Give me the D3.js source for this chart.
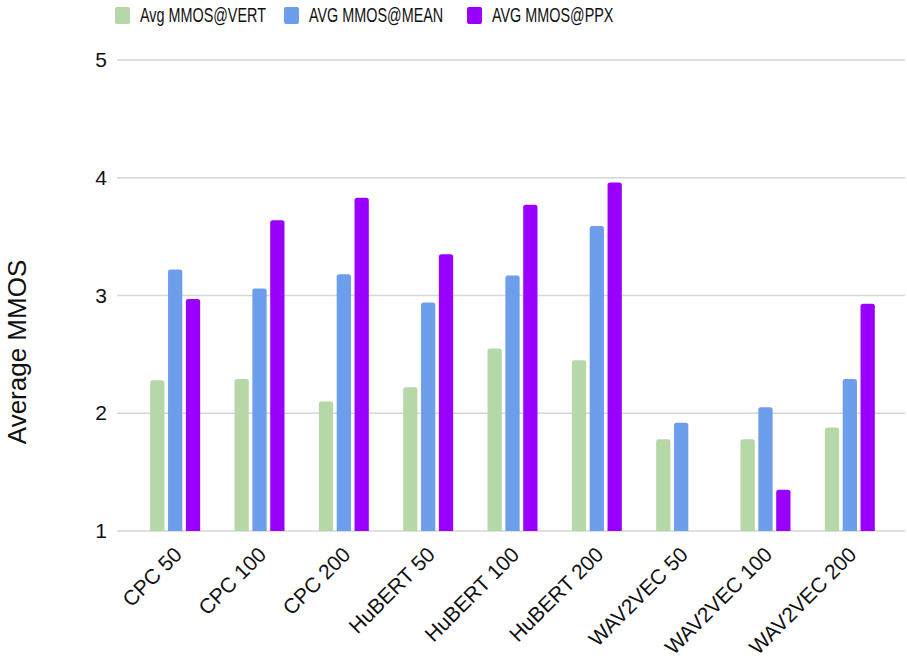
<!DOCTYPE html>
<html>
<head>
<meta charset="utf-8">
<script src="https://cdn.jsdelivr.net/npm/d3@7/dist/d3.min.js"></script>
<style>
  html, body { margin: 0; padding: 0; background: #fff; }
  svg { display: block; font-family: "Liberation Sans", Arial, sans-serif; }
</style>
</head>
<body>
<svg id="chart" width="907" height="665"></svg>
<script>
// ---- data ----
const categories = ["CPC 50", "CPC 100", "CPC 200", "HuBERT 50", "HuBERT 100", "HuBERT 200", "WAV2VEC 50", "WAV2VEC 100", "WAV2VEC 200"];
const seriesNames = ["Avg MMOS@VERT", "AVG MMOS@MEAN", "AVG MMOS@PPX"];
const vertValues = [2.28, 2.29, 2.10, 2.22, 2.55, 2.45, 1.78, 1.78, 1.88];
const meanValues = [3.22, 3.06, 3.18, 2.94, 3.17, 3.59, 1.92, 2.05, 2.29];
const ppxValues  = [2.97, 3.64, 3.83, 3.35, 3.77, 3.96, null, 1.35, 2.93];
const yTicks = [1, 2, 3, 4, 5];
const yTitle = "Average MMOS";
const colors = ["#b6d7a8", "#6d9eeb", "#9900ff"];

const seriesValues = [vertValues, meanValues, ppxValues];

// ---- layout ----
const svg = d3.select("#chart");
const plotLeft = 117, plotRight = 905;
const y = d3.scaleLinear().domain([1, 5]).range([531, 60]);
const x = d3.scaleBand().domain(categories).range([133, 892]).paddingInner(0.4074).paddingOuter(0.2037);
const xInner = d3.scaleBand().domain(seriesNames).range([0, x.bandwidth()]).paddingInner(0.2);

// gridlines
const grid = svg.append("g");
grid.selectAll("line").data(yTicks).join("line")
  .attr("x1", plotLeft).attr("x2", plotRight)
  .attr("y1", d => y(d)).attr("y2", d => y(d))
  .attr("stroke", "#d6d6d6").attr("stroke-width", 1.6);

// y axis labels via d3 axis
const yAxis = d3.axisLeft(y).tickValues(yTicks).tickFormat(d3.format("d")).tickSize(0).tickPadding(0);
const yg = svg.append("g").attr("transform", `translate(107,0)`).call(yAxis);
yg.select(".domain").remove();
yg.selectAll("text").attr("font-size", 21).attr("fill", "#111").attr("font-family", "Liberation Sans, Arial, sans-serif");

// bars
function barPath(x0, w, yTop, yBot, r) {
  r = Math.min(r, w / 2, (yBot - yTop));
  return `M${x0},${yBot}V${yTop + r}Q${x0},${yTop} ${x0 + r},${yTop}H${x0 + w - r}Q${x0 + w},${yTop} ${x0 + w},${yTop + r}V${yBot}Z`;
}
const barData = [];
categories.forEach((c, i) => {
  seriesNames.forEach((s, j) => {
    const v = seriesValues[j][i];
    if (v != null) barData.push({ c, s, v, j });
  });
});
svg.append("g").selectAll("path").data(barData).join("path")
  .attr("d", d => barPath(x(d.c) + xInner(d.s), xInner.bandwidth(), y(d.v), y(1), 2.5))
  .attr("fill", d => colors[d.j]);

// x axis labels
const xAxis = d3.axisBottom(x).tickSize(0).tickPadding(0);
const xg = svg.append("g").attr("transform", `translate(0,531)`).call(xAxis);
xg.select(".domain").remove();
xg.selectAll("text")
  .attr("font-size", 21).attr("fill", "#111").attr("font-family", "Liberation Sans, Arial, sans-serif")
  .attr("text-anchor", "end").attr("dy", null).attr("y", null)
  .attr("transform", "translate(8,25) rotate(-45)");

// y title
svg.append("text")
  .attr("transform", "translate(26,352) rotate(-90)")
  .attr("text-anchor", "middle")
  .attr("font-size", 26).attr("fill", "#111")
  .text(yTitle);

// legend
const legendX = [115, 284, 467];
const legend = svg.append("g");
seriesNames.forEach((s, j) => {
  legend.append("rect").attr("x", legendX[j]).attr("y", 7).attr("width", 15).attr("height", 17)
    .attr("rx", 2).attr("fill", colors[j]);
  legend.append("text")
    .attr("transform", `translate(${legendX[j] + 25},22) scale(0.72,1)`)
    .attr("font-size", 20).attr("fill", "#111")
    .text(s);
});
</script>
</body>
</html>
